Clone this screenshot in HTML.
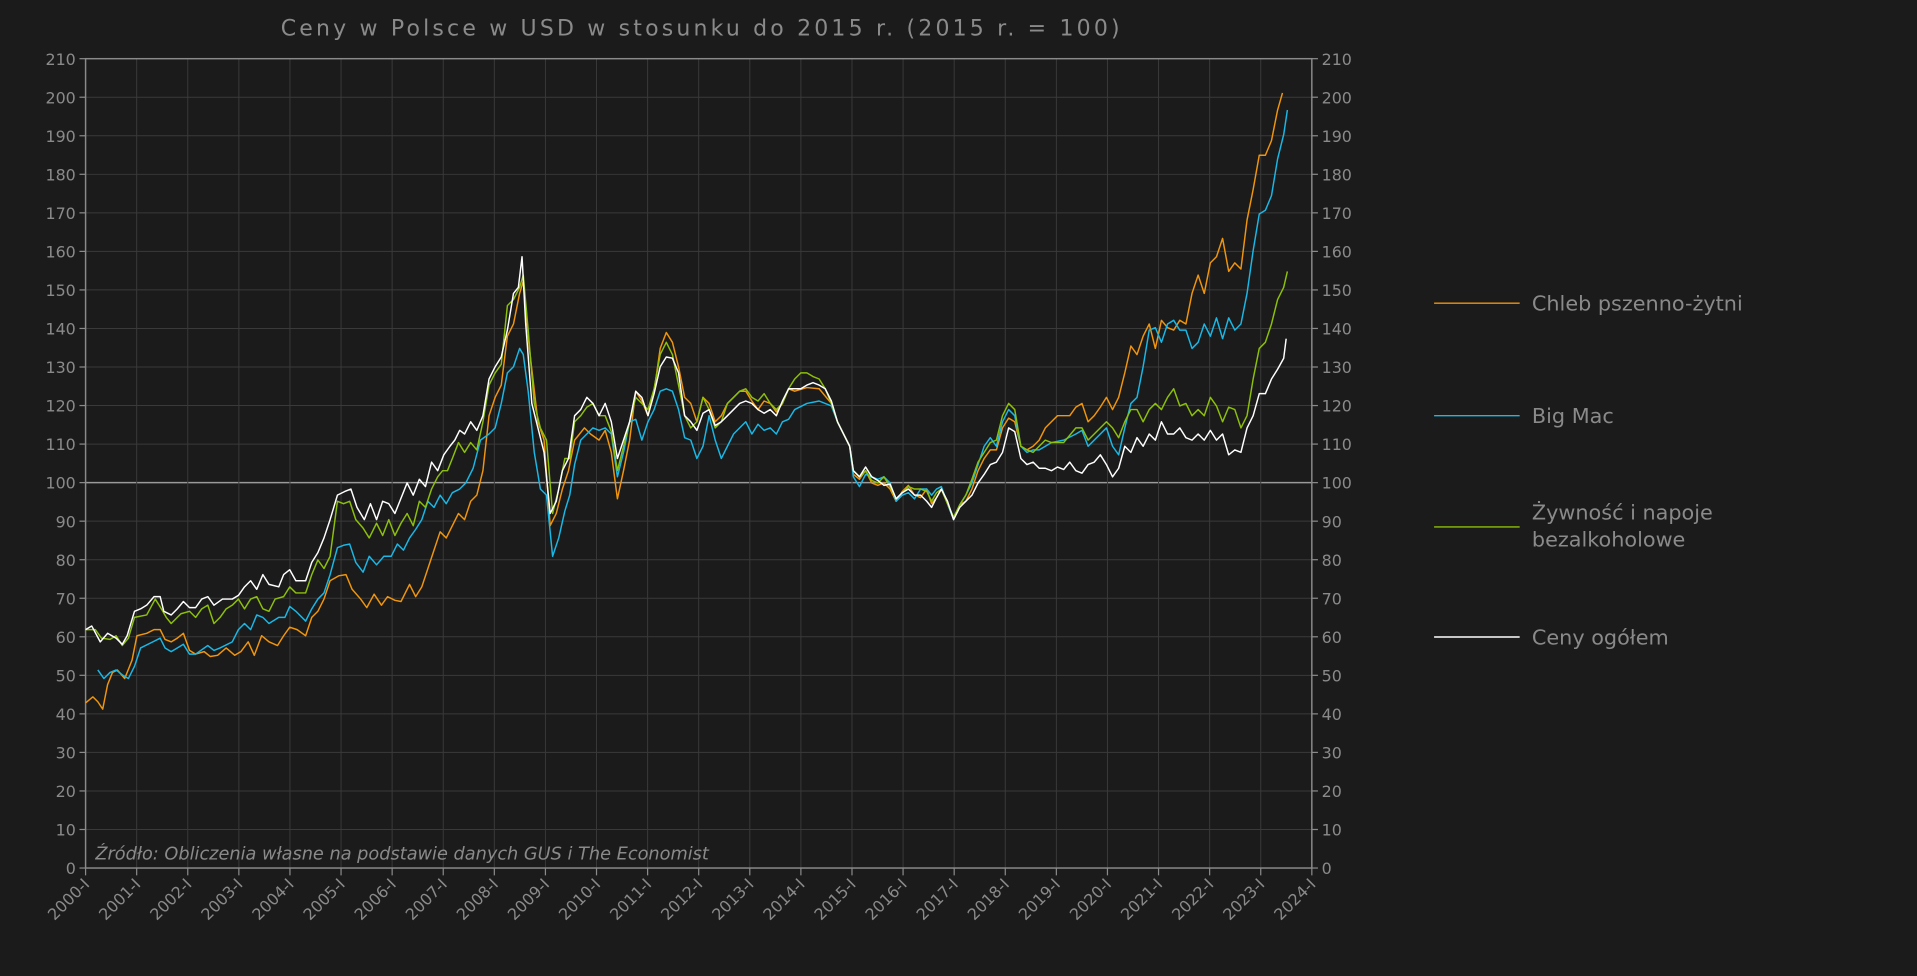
<!DOCTYPE html>
<html><head><meta charset="utf-8"><style>
html,body{margin:0;padding:0;background:#1b1b1b;}
svg{display:block;}
text{font-family:"DejaVu Sans","Liberation Sans",sans-serif;fill:#8a8a8a;}
</style></head><body>
<svg id="s" width="1917" height="976" xmlns="http://www.w3.org/2000/svg">
<rect width="1917" height="976" fill="#1b1b1b"/>
<g id="g" transform="scale(1.22258)"></g>
</svg>
<script>
const g=document.getElementById('g');
const NS='http://www.w3.org/2000/svg';
function el(t,a,txt){const e=document.createElementNS(NS,t);for(const k in a)e.setAttribute(k,a[k]);if(txt!==undefined)e.textContent=txt;g.appendChild(e);return e;}
const L=70,R=1073,B=710,T=48;
const xs=y=>L+(y-2000)*(R-L)/24, ys=v=>B-v*(B-T)/210;
for(let v=0;v<=210;v+=10){const y=ys(v);
 el('line',{x1:L,x2:R,y1:y,y2:y,stroke:v==100?'#9a9a9a':'#3a3a3a','stroke-width':v==100?1.2:0.8});
 el('line',{x1:L-5,x2:L,y1:y,y2:y,stroke:'#8a8a8a'});
 el('line',{x1:R,x2:R+5,y1:y,y2:y,stroke:'#8a8a8a'});
 el('text',{x:L-8,y:y+5,'text-anchor':'end','font-size':13},v);
 el('text',{x:R+8,y:y+5,'font-size':13},v);
}
for(let yr=2000;yr<=2024;yr++){const x=xs(yr);
 el('line',{x1:x,x2:x,y1:T,y2:B,stroke:'#3a3a3a','stroke-width':0.8});
 el('line',{x1:x,x2:x,y1:B,y2:B+6,stroke:'#8a8a8a'});
 el('text',{x:x+4,y:B+14,'text-anchor':'end','font-size':13,transform:`rotate(-45 ${x+4} ${B+14})`},yr+'-I');
}
el('rect',{x:L,y:T,width:R-L,height:B-T,fill:'none',stroke:'#8a8a8a','stroke-width':1.2});
el('text',{x:574,y:29,'text-anchor':'middle','font-size':18,'letter-spacing':'2.6'},'Ceny w Polsce w USD w stosunku do 2015 r. (2015 r. = 100)');
el('text',{x:78,y:703,'font-size':14.5,'font-style':'italic'},'Źródło: Obliczenia własne na podstawie danych GUS i The Economist');
const D={
white:"70,515 75,512 82,525 88,518 95,522 100,527 104,520 110,500 115,498 120,495 126,488 131,488 134,500 140,503 145,498 150,492 155,497 160,497 165,490 170,488 175,495 182,490 190,490 195,487 200,480 205,475 210,482 215,470 220,478 228,480 232,470 237,466 242,475 250,475 255,460 260,452 265,440 270,425 276,405 282,402 287,400 292,415 298,425 303,412 308,425 313,410 318,412 323,420 327,410 333,395 338,405 343,392 348,398 353,378 358,385 363,372 368,365 372,360 376,352 380,355 385,345 390,352 395,340 400,310 405,300 410,292 415,270 420,240 424,235 427,210 430,265 435,330 440,350 445,370 450,420 455,410 460,385 465,375 470,340 475,335 480,325 485,330 490,340 495,330 500,345 505,375 510,360 515,345 520,320 525,325 530,340 535,322 540,300 545,292 550,293 555,305 560,340 565,345 570,352 575,338 580,335 585,348 590,345 595,340 600,335 605,330 610,328 615,330 620,335 625,338 630,335 635,340 640,328 645,318 650,318 655,318 660,315 665,313 670,315 675,318 680,328 685,345 690,355 695,365 698,385 703,390 708,382 713,390 718,393 723,397 728,396 733,408 738,403 743,400 748,405 753,405 758,410 762,415 766,407 770,400 775,410 780,425 785,415 790,410 795,405 800,395 805,388 810,380 815,378 820,370 825,350 830,353 835,375 840,380 845,378 850,383 855,383 860,385 865,382 870,384 875,378 880,385 885,387 890,380 895,378 900,372 905,380 910,390 915,383 920,365 925,370 930,358 935,365 940,355 945,360 950,345 955,355 960,355 965,350 970,358 975,360 980,355 985,360 990,352 995,360 1000,355 1005,372 1010,368 1015,370 1020,350 1025,340 1030,322 1035,322 1040,310 1045,302 1050,293 1052,277",
orange:"70,575 76,570 80,574 84,580 88,560 92,550 96,548 102,555 108,540 112,520 120,518 126,515 131,515 135,523 140,525 145,522 150,518 155,532 160,535 167,533 172,537 178,536 185,530 192,536 197,533 203,525 208,536 214,520 220,525 227,528 232,520 237,513 243,515 250,520 255,505 260,500 265,490 270,475 277,471 283,470 288,482 295,490 300,497 306,486 312,495 317,488 323,491 328,492 335,478 340,488 345,480 350,465 355,450 360,435 365,440 370,430 375,420 380,425 385,410 390,405 395,385 400,340 405,325 410,315 415,275 420,265 425,240 428,230 433,285 440,345 445,360 450,430 455,420 460,400 465,385 470,360 478,350 483,355 490,360 495,352 500,370 505,408 510,385 515,360 520,320 525,328 530,340 535,320 540,285 545,272 550,280 555,300 560,325 565,330 570,345 575,325 580,330 585,345 590,340 595,330 600,325 605,320 610,320 615,328 620,335 625,328 630,330 635,337 640,330 645,318 650,320 660,317 670,318 680,330 685,345 690,355 695,365 698,388 703,392 708,385 713,395 718,397 723,395 728,400 733,410 738,402 743,397 748,405 753,407 758,400 762,412 766,407 770,400 775,412 780,425 785,413 790,410 795,400 800,385 805,375 810,368 815,368 820,350 825,342 830,345 835,365 840,368 845,365 850,360 855,350 860,345 865,340 870,340 875,340 880,333 885,330 890,345 895,340 900,333 905,325 910,335 915,325 920,305 925,283 930,290 935,275 940,265 945,285 950,262 955,268 960,270 965,262 970,265 975,240 980,225 985,240 990,215 995,210 1000,195 1005,222 1010,215 1015,220 1020,180 1025,155 1030,127 1035,127 1040,115 1045,90 1049,76",
blue:"80,548 85,555 90,550 95,548 100,552 105,555 110,545 115,530 125,525 131,522 135,530 140,533 145,530 150,527 155,535 160,535 170,528 175,532 180,530 190,525 195,515 200,510 205,515 210,503 215,505 220,510 228,505 233,505 237,496 242,500 250,508 255,498 260,490 265,485 270,470 276,448 281,446 286,445 291,460 297,468 302,455 308,462 314,455 320,455 325,445 330,450 335,440 340,433 345,425 350,410 355,415 360,405 365,412 370,403 376,400 381,395 387,383 393,360 400,355 405,350 410,330 415,305 420,300 425,285 428,290 432,320 437,370 442,400 447,405 452,455 457,440 462,418 466,405 470,380 475,360 480,355 485,350 490,352 495,350 500,355 505,390 510,370 515,345 520,343 525,360 530,345 535,335 540,320 545,318 550,320 555,335 560,358 565,360 570,375 575,365 580,340 585,360 590,375 595,365 600,355 605,350 610,345 615,355 620,347 625,352 630,350 635,355 640,345 645,343 650,335 660,330 670,328 680,332 685,345 690,355 695,365 698,390 703,398 708,388 713,390 718,392 723,390 728,395 733,410 738,405 743,403 748,408 753,400 758,400 762,405 766,400 770,398 775,412 780,425 785,413 790,405 795,395 800,380 805,365 810,358 815,365 820,345 825,335 830,340 835,365 840,370 845,368 850,368 855,365 860,362 870,360 880,355 885,352 890,365 895,360 900,355 905,350 910,365 915,372 920,350 925,330 930,325 935,300 940,270 945,268 950,280 955,265 960,262 965,270 970,270 975,285 980,280 985,265 990,275 995,260 1000,277 1005,260 1010,270 1015,265 1020,240 1025,205 1030,175 1035,172 1040,160 1045,130 1050,110 1053,90",
green:"70,515 78,515 83,522 90,523 95,520 100,528 105,522 110,505 120,503 127,490 132,498 136,505 140,510 148,502 155,500 160,505 165,498 170,495 175,510 180,505 185,498 190,495 195,490 200,498 205,490 210,488 215,498 220,500 225,490 232,488 237,480 242,485 250,485 255,470 260,458 265,465 270,455 276,410 281,412 286,410 291,425 297,432 302,440 308,428 313,438 318,425 323,438 328,428 333,420 338,430 343,410 348,415 353,400 358,390 362,385 366,385 370,375 375,362 380,370 385,362 390,368 395,345 400,315 405,305 410,298 415,250 420,245 425,235 428,225 432,270 437,330 442,350 447,360 452,420 457,400 462,375 466,375 470,345 475,340 480,333 485,330 490,340 495,340 500,353 505,385 510,365 515,345 520,325 525,330 530,335 535,318 540,290 545,280 550,290 555,315 560,340 565,350 570,345 575,325 580,335 585,350 590,345 595,330 600,325 605,320 610,318 615,325 620,328 625,322 630,330 635,335 640,330 645,318 650,310 655,305 660,305 665,308 670,310 675,318 680,330 685,345 690,355 695,365 698,385 703,390 708,385 713,393 718,395 723,390 728,398 733,408 738,403 743,398 748,400 753,400 758,402 762,410 766,403 770,400 775,412 780,423 785,413 790,405 795,392 800,378 805,370 810,362 815,360 820,340 825,330 830,335 835,365 840,368 845,370 850,365 855,360 860,362 870,362 880,350 885,350 890,360 895,355 900,350 905,345 910,350 915,358 920,345 925,335 930,335 935,345 940,335 945,330 950,335 955,325 960,318 965,332 970,330 975,340 980,335 985,340 990,325 995,332 1000,345 1005,333 1010,335 1015,350 1020,340 1025,310 1030,285 1035,280 1040,265 1045,245 1050,235 1053,222"};
const C={orange:'#f0950d',blue:'#19b8e6',green:'#8cc00a',white:'#ffffff'};
for(const k of ['orange','blue','green','white'])
 el('polyline',{points:D[k],fill:'none',stroke:C[k],'stroke-width':1.2,'stroke-linejoin':'round'});
const Lg=[['orange',248,['Chleb pszenno-żytni']],['blue',340,['Big Mac']],['green',431,['Żywność i napoje','bezalkoholowe']],['white',521,['Ceny ogółem']]];
for(const [k,y,t] of Lg){
 el('line',{x1:1173,x2:1243,y1:y,y2:y,stroke:C[k],'stroke-width':1.2});
 const y0=t.length>1?y-12+6:y+6;
 t.forEach((s,i)=>el('text',{x:1253,y:y0+i*22,'font-size':17},s));
}
</script>
</body></html>
